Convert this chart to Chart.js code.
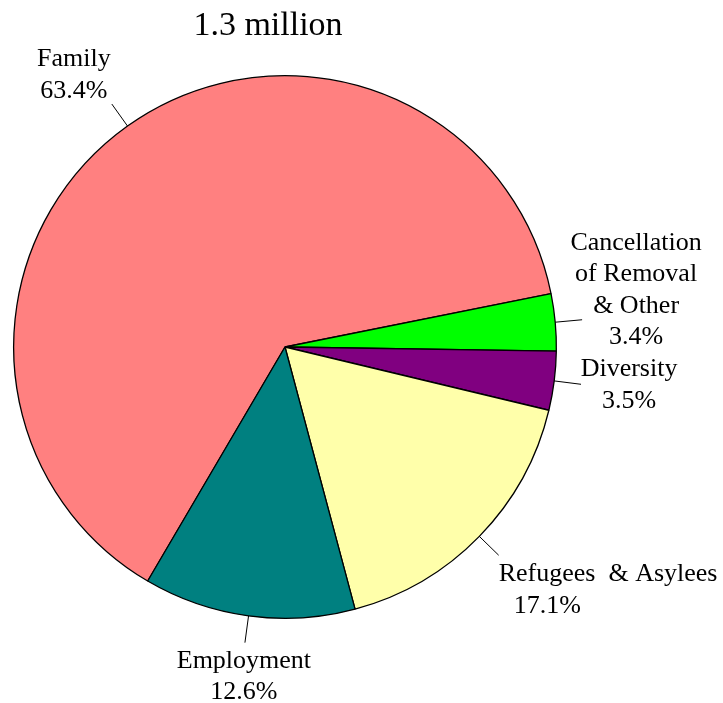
<!DOCTYPE html>
<html>
<head>
    <title>Immigrants by class of admission</title>
    <script src="https://cdn.jsdelivr.net/npm/chart.js"></script>
    <style>
        body { margin: 0; background: #fff; }
        #wrap { width: 723px; height: 703px; }
    </style>
</head>
<body>
    <div id="wrap"><canvas id="pie" width="723" height="703"></canvas></div>
    <script>
        // slices, clockwise starting at Family
        const categories = ['Family', 'Cancellation of Removal & Other', 'Diversity', 'Refugees  & Asylees', 'Employment'];
        const shares = [63.4, 3.4, 3.5, 17.1, 12.6];
        const sliceColors = ['#FF8080', '#00FF00', '#800080', '#FFFFAA', '#008080'];
        const labelLines = [['Family'], ['Cancellation', 'of Removal', '& Other'], ['Diversity'], ['Refugees  & Asylees'], ['Employment']];
        const totalLabel = '1.3 million';

        // where each label block sits relative to the end of its leader line
        const labelLayout = [
            { dx: -38, dy: -38, align: 'center', indent: 0 },
            { dx: 54, dy: -70, align: 'center', indent: 0 },
            { dx: 48, dy: -8, align: 'center', indent: 0 },
            { dx: 0, dy: 26, align: 'left', indent: 15 },
            { dx: -1, dy: 25, align: 'center', indent: 0 }
        ];

        const FONT = '"Liberation Serif", "Times New Roman", serif';

        const pieLabels = {
            id: 'pieLabels',
            afterDatasetsDraw(chart) {
                const ctx = chart.ctx;
                const arcs = chart.getDatasetMeta(0).data;
                ctx.save();
                ctx.strokeStyle = '#000';
                ctx.lineWidth = 1;
                ctx.fillStyle = '#000';
                ctx.font = '26px ' + FONT;
                ctx.textBaseline = 'alphabetic';
                arcs.forEach((arc, i) => {
                    const mid = (arc.startAngle + arc.endAngle) / 2;
                    const r = arc.outerRadius;
                    const x0 = arc.x + Math.cos(mid) * r;
                    const y0 = arc.y + Math.sin(mid) * r;
                    const x1 = arc.x + Math.cos(mid) * (r + 27);
                    const y1 = arc.y + Math.sin(mid) * (r + 27);
                    ctx.beginPath();
                    ctx.moveTo(x0, y0);
                    ctx.lineTo(x1, y1);
                    ctx.stroke();

                    const lay = labelLayout[i];
                    const lines = labelLines[i].concat([shares[i].toFixed(1) + '%']);
                    ctx.textAlign = lay.align;
                    lines.forEach((t, k) => {
                        const isPct = k === lines.length - 1;
                        const tx = x1 + lay.dx + (isPct ? lay.indent : 0);
                        ctx.fillText(t, tx, y1 + lay.dy + k * 31.5);
                    });
                });
                // title
                ctx.font = '34px ' + FONT;
                ctx.textAlign = 'center';
                ctx.fillText(totalLabel, 268, 35);
                ctx.restore();
            }
        };

        new Chart(document.getElementById('pie'), {
            type: 'pie',
            data: {
                labels: categories,
                datasets: [{
                    data: shares,
                    backgroundColor: sliceColors,
                    borderColor: '#000',
                    borderWidth: 1.3
                }]
            },
            options: {
                responsive: false,
                animation: false,
                rotation: 210.4,
                layout: { padding: { left: 13, right: 166, top: 75, bottom: 84 } },
                plugins: {
                    legend: { display: false },
                    tooltip: { enabled: false },
                    title: { display: false }
                }
            },
            plugins: [pieLabels]
        });
    </script>
</body>
</html>
